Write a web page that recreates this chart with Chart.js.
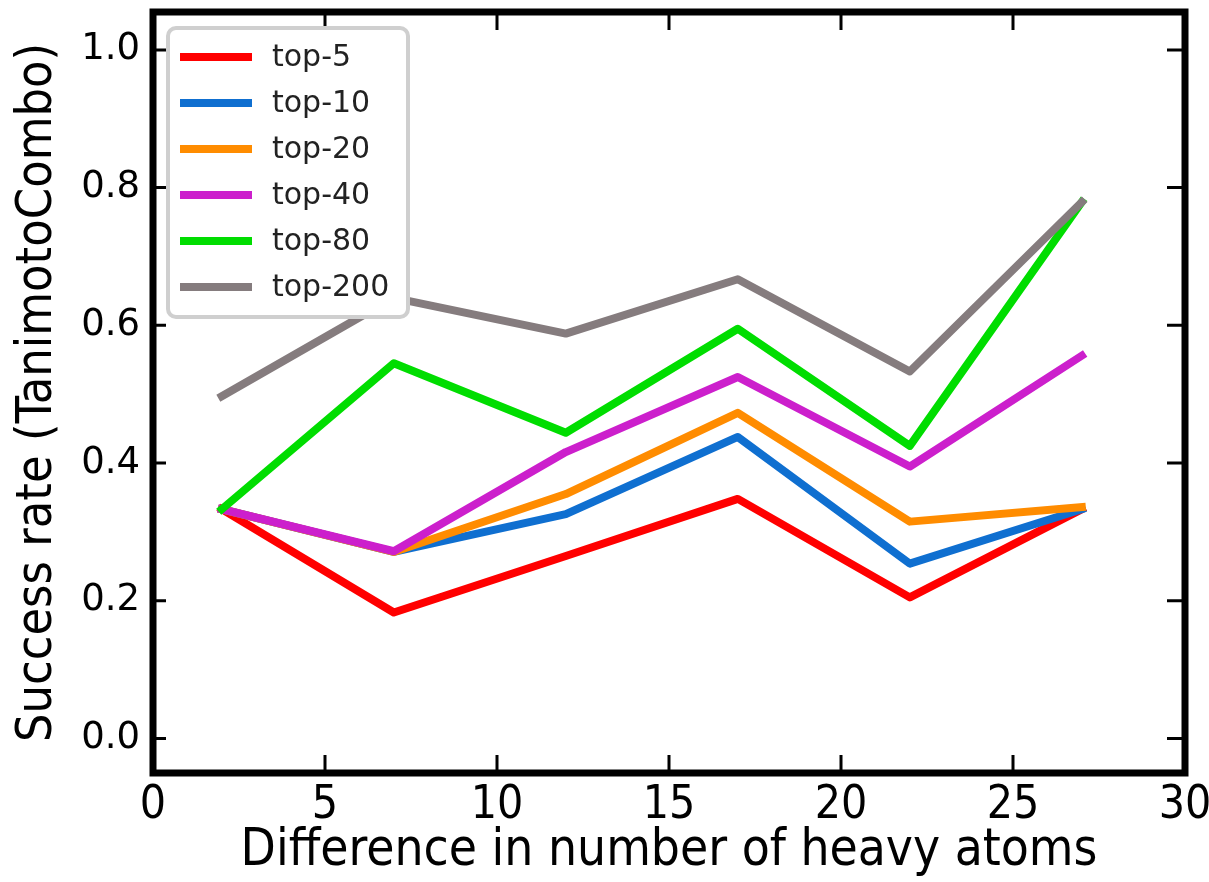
<!DOCTYPE html>
<html lang="en">
<head>
    <meta charset="UTF-8">
    <title>Success rate vs heavy atom difference</title>
    <script src="https://cdn.jsdelivr.net/npm/chart.js@4.4.0/dist/chart.umd.min.js"></script>
    <style>
        html, body { margin: 0; padding: 0; background: #fff; }
        canvas { display: block; }
    </style>
</head>
<body>
    <canvas id="successChart" width="1209" height="882"></canvas>

    <script>
        // Data
        const heavyAtomDiff = [2, 7, 12, 17, 22, 27];
        const top5   = [0.333, 0.183, 0.265, 0.348, 0.205, 0.333];
        const top10  = [0.333, 0.271, 0.326, 0.438, 0.254, 0.333];
        const top20  = [0.333, 0.271, 0.355, 0.473, 0.315, 0.336];
        const top40  = [0.333, 0.272, 0.416, 0.525, 0.395, 0.556];
        const top80  = [0.333, 0.545, 0.444, 0.595, 0.425, 0.779];
        const top200 = [0.497, 0.640, 0.588, 0.667, 0.533, 0.779];

        const seriesLabels = ['top-5', 'top-10', 'top-20', 'top-40', 'top-80', 'top-200'];
        const seriesValues = [top5, top10, top20, top40, top80, top200];
        const seriesColors = ['#ff0000', '#0f6fd0', '#ff8c00', '#cc1fcc', '#00dd00', '#857c7e'];

        const xTicks = [0, 5, 10, 15, 20, 25, 30];
        const yTicks = [0.0, 0.2, 0.4, 0.6, 0.8, 1.0];

        const FONT = "'DejaVu Sans Condensed', 'DejaVu Sans', sans-serif";

        // Frame and inward ticks, matplotlib style
        const framePlugin = {
            id: 'frame',
            afterDatasetsDraw(chart) {
                const { ctx, chartArea: a, scales } = chart;
                ctx.save();
                ctx.strokeStyle = '#000';
                ctx.lineWidth = 3;
                xTicks.forEach(v => {
                    const px = scales.x.getPixelForValue(v);
                    ctx.beginPath();
                    ctx.moveTo(px, a.bottom); ctx.lineTo(px, a.bottom - 18);
                    ctx.moveTo(px, a.top); ctx.lineTo(px, a.top + 18);
                    ctx.stroke();
                });
                yTicks.forEach(v => {
                    const py = scales.y.getPixelForValue(v);
                    ctx.beginPath();
                    ctx.moveTo(a.left, py); ctx.lineTo(a.left + 13, py);
                    ctx.moveTo(a.right, py); ctx.lineTo(a.right - 18, py);
                    ctx.stroke();
                });
                ctx.lineWidth = 7;
                ctx.strokeRect(a.left, a.top, a.right - a.left, a.bottom - a.top);
                ctx.restore();
            }
        };

        // Legend box in the upper left of the plot
        const legendPlugin = {
            id: 'insideLegend',
            afterDraw(chart) {
                const { ctx, chartArea: a } = chart;
                const x0 = a.left + 15, y0 = a.top + 16;
                const w = 240, h = 289, r = 8;
                ctx.save();
                ctx.beginPath();
                ctx.roundRect(x0, y0, w, h, r);
                ctx.fillStyle = '#fff';
                ctx.fill();
                ctx.lineWidth = 4;
                ctx.strokeStyle = '#cfcfcf';
                ctx.stroke();

                ctx.font = "30px 'DejaVu Sans', sans-serif";
                ctx.textBaseline = 'middle';
                ctx.fillStyle = '#222';
                chart.data.datasets.forEach((ds, i) => {
                    const yy = y0 + 29 + i * 46;
                    ctx.strokeStyle = ds.borderColor;
                    ctx.lineWidth = 8;
                    ctx.lineCap = 'butt';
                    ctx.beginPath();
                    ctx.moveTo(x0 + 12, yy);
                    ctx.lineTo(x0 + 84, yy);
                    ctx.stroke();
                    ctx.fillText(ds.label, x0 + 104, yy + 1);
                });
                ctx.restore();
            }
        };

        const ctx = document.getElementById('successChart').getContext('2d');
        new Chart(ctx, {
            type: 'line',
            data: {
                datasets: seriesLabels.map((label, i) => ({
                    label: label,
                    data: heavyAtomDiff.map((x, j) => ({ x: x, y: seriesValues[i][j] })),
                    borderColor: seriesColors[i],
                    backgroundColor: seriesColors[i],
                    borderWidth: 8,
                    borderCapStyle: 'square',
                    borderJoinStyle: 'round',
                    pointRadius: 0,
                    tension: 0,
                    order: seriesLabels.length - i
                }))
            },
            options: {
                responsive: false,
                animation: false,
                layout: { padding: { left: 0, right: 24, top: 12, bottom: 0 } },
                plugins: {
                    legend: { display: false },
                    tooltip: { enabled: false }
                },
                scales: {
                    x: {
                        type: 'linear',
                        min: 0,
                        max: 30,
                        afterBuildTicks: s => { s.ticks = xTicks.map(v => ({ value: v })); },
                        afterFit: s => {
                            s.height = 109;
                            s.paddingLeft = 0; s.paddingRight = 0;
                        },
                        grid: { display: false, drawTicks: false },
                        border: { display: false },
                        ticks: {
                            padding: 5,
                            color: '#000',
                            font: { family: FONT, size: 46 },
                            callback: v => String(v)
                        },
                        title: {
                            display: true,
                            text: 'Difference in number of heavy atoms',
                            color: '#000',
                            font: { family: FONT, size: 51 },
                            padding: { top: 0, bottom: 0 }
                        }
                    },
                    y: {
                        min: -0.05,
                        max: 1.055,
                        afterBuildTicks: s => { s.ticks = yTicks.map(v => ({ value: v })); },
                        afterFit: s => {
                            s.width = 153;
                            s.paddingTop = 0; s.paddingBottom = 0;
                        },
                        grid: { display: false, drawTicks: false },
                        border: { display: false },
                        ticks: {
                            padding: 13,
                            color: '#000',
                            font: { family: 'DejaVu Sans', size: 37 },
                            callback: v => v.toFixed(1)
                        },
                        title: {
                            display: true,
                            text: 'Success rate (TanimotoCombo)',
                            color: '#000',
                            font: { family: FONT, size: 50 },
                            padding: { top: 8, bottom: 0 }
                        }
                    }
                }
            },
            plugins: [framePlugin, legendPlugin]
        });
    </script>
</body>
</html>
